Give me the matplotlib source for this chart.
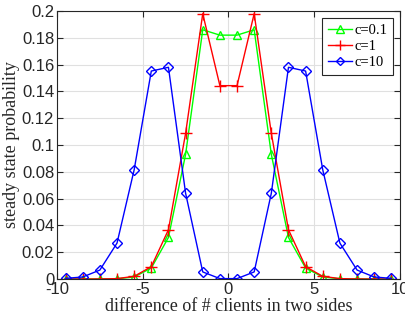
import matplotlib
matplotlib.use("Agg")
import matplotlib.pyplot as plt
import numpy as np

plt.rcParams["axes.unicode_minus"] = False

x = [-9.5, -8.5, -7.5, -6.5, -5.5, -4.5, -3.5, -2.5, -1.5, -0.5,
     0.5, 1.5, 2.5, 3.5, 4.5, 5.5, 6.5, 7.5, 8.5, 9.5]
half_c01 = [0.0, 0.0, 0.0, 0.0002, 0.0015, 0.0082, 0.031, 0.093, 0.186, 0.182]
half_c1 = [0.0, 0.0, 0.0, 0.0003, 0.002, 0.0092, 0.0368, 0.1087, 0.198, 0.1443]
half_c10 = [0.0005, 0.0015, 0.0067, 0.0268, 0.0815, 0.1552, 0.158, 0.064, 0.0053, 0.0003]
c01 = half_c01 + half_c01[::-1]
c1 = half_c1 + half_c1[::-1]
c10 = half_c10 + half_c10[::-1]
labels = ["c=0.1", "c=1", "c=10"]

fig = plt.figure(figsize=(4.06, 3.22), dpi=100)
ax = fig.add_axes([0.1404, 0.1335, 0.8446, 0.8323])
ax.plot(x, c01, color="#00ff00", marker="^", mfc="none", ms=6, lw=1, label=labels[0])
ax.plot(x, c1, color="#ff0000", marker="+", ms=8, lw=1, label=labels[1])
ax.plot(x, c10, color="#0000ff", marker="D", mfc="none", ms=5, lw=1, label=labels[2])
ax.set_xlim(-10, 10)
ax.set_ylim(0, 0.2)
ax.set_xticks([-10, -5, 0, 5, 10])
ax.set_yticks(np.arange(0, 0.201, 0.02))
ax.set_yticklabels(["0", "0.02", "0.04", "0.06", "0.08", "0.1", "0.12", "0.14", "0.16", "0.18", "0.2"])
ax.grid(True, color="#e0e0e0", lw=0.8)
ax.set_axisbelow(True)
ax.tick_params(direction="in", top=True, right=True, labelsize=12, length=4, color="#262626", pad=2)
for lab in ax.get_xticklabels() + ax.get_yticklabels():
    lab.set_family("Liberation Sans")
    lab.set_color("#262626")
for s in ax.spines.values():
    s.set_color("#262626")
    s.set_linewidth(0.8)
ax.set_xlabel("difference of # clients in two sides", family="Liberation Serif", fontsize=13, color="#262626", labelpad=1)
ax.set_ylabel("steady state probability", family="Liberation Serif", fontsize=13, color="#262626", labelpad=1)
leg = ax.legend(loc="upper right", prop={"family": "Liberation Serif", "size": 10.5},
                fancybox=False, edgecolor="#262626", framealpha=1, handlelength=1.7,
                borderpad=0.35, labelspacing=0.22, handletextpad=0.15, borderaxespad=0.5,
                markerscale=0.9)
leg.get_frame().set_linewidth(0.8)
fig.savefig("out.png", dpi=100)
